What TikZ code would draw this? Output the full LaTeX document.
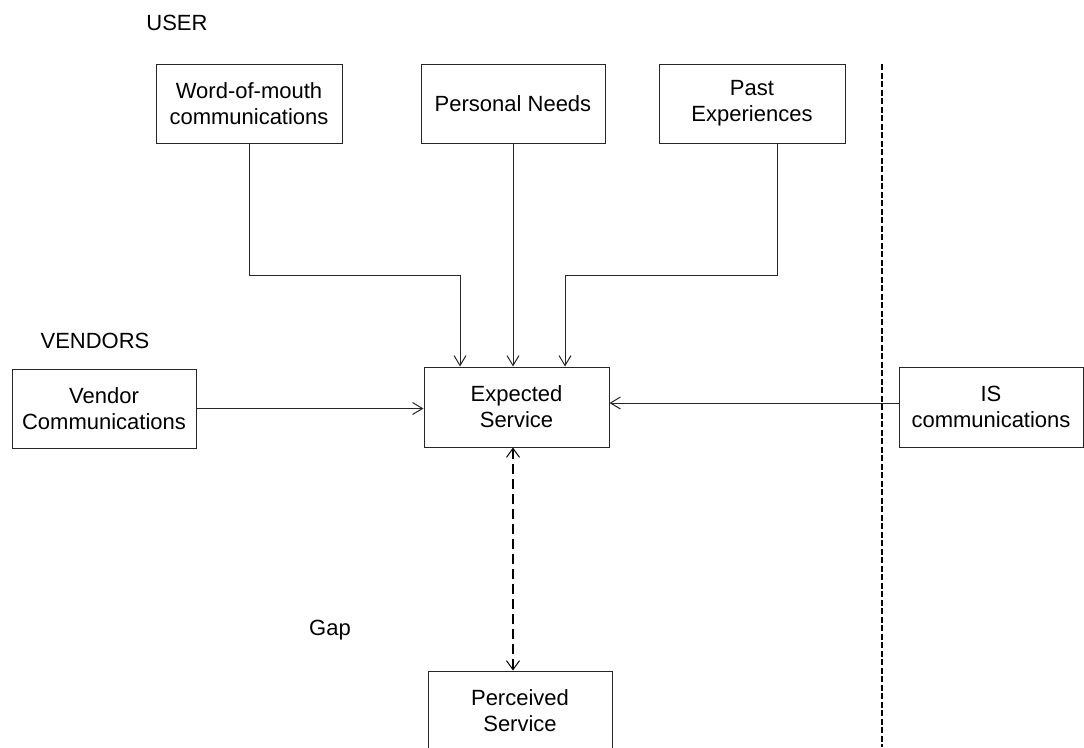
\documentclass[tikz,border=0pt]{standalone}
\usepackage{fontspec}
\setmainfont{Liberation Sans}
\usetikzlibrary{arrows.meta}
\begin{document}
\begin{tikzpicture}[x=1pt,y=-1pt,
  every node/.style={font=\fontsize{22}{26}\selectfont, text=black},
  box/.style={draw=black!85, line width=1pt, align=center, inner sep=0pt},
  flow/.style={draw=black!85, line width=1pt,
    -{Straight Barb[length=10pt,width=12pt,line width=1pt]}},
  gap/.style={draw=black, line width=2.6pt, dash pattern=on 10pt off 5pt,
    {Straight Barb[length=9pt,width=13pt,line width=1pt]}-{Straight Barb[length=9pt,width=13pt,line width=1pt]}},
  divider/.style={draw=black, line width=2pt, dash pattern=on 6pt off 2.5pt}]
  \useasboundingbox (0,0) rectangle (1084,747);
  \clip (0,0) rectangle (1084,747);

  % section labels
  \node (user) at (177,23) {USER};
  \node (vendors) at (95,341) {VENDORS};
  \node (gaplbl) at (330,630) {Gap};

  % input boxes
  \node[box, minimum width=186pt, minimum height=79pt] (wom) at (249,103.5)
    {Word-of-mouth\\communications};
  \node[box, minimum width=184pt, minimum height=79pt] (needs) at (513,103.5)
    {Personal Needs};
  \node[box, minimum width=186pt, minimum height=79pt] (past) at (752,103.5)
    {Past\\Experiences};
  \node[box, minimum width=184pt, minimum height=79pt] (vendor) at (104,408.5)
    {Vendor\\Communications};
  \node[box, minimum width=185pt, minimum height=80pt] (expected) at (516.5,407)
    {Expected\\Service};
  \node[box, minimum width=184pt, minimum height=80pt] (is) at (991,407)
    {IS\\communications};
  % perceived service box runs past the lower edge
  \node[box, minimum width=184pt, minimum height=110pt] (perceived) at (520,726)
    {};
  \node (perctext) at (520,711) [align=center] {Perceived\\Service};

  % boundary between user and IS side
  \coordinate (divtop) at (882,64);
  \coordinate (divbot) at (882,747);
  \draw[divider] (divtop) -- (divbot);

  % connectors into expected service
  \draw[flow] (wom.south) -- ++(0,132) -| ([xshift=-56.5pt]expected.north);
  \draw[flow] (needs.south) -- ([xshift=-3.5pt]expected.north);
  \draw[flow] ([xshift=25pt]past.south) -- ++(0,132) -| ([xshift=48.5pt]expected.north);
  \draw[flow] (vendor.east) -- (expected.west |- vendor.east);
  \draw[flow] (is.west |- 0,403) -- (expected.east |- 0,403);

  % gap between expected and perceived
  \draw[gap] ([xshift=-3.5pt]expected.south) -- ([xshift=-7pt]perceived.north);
\end{tikzpicture}
\end{document}
